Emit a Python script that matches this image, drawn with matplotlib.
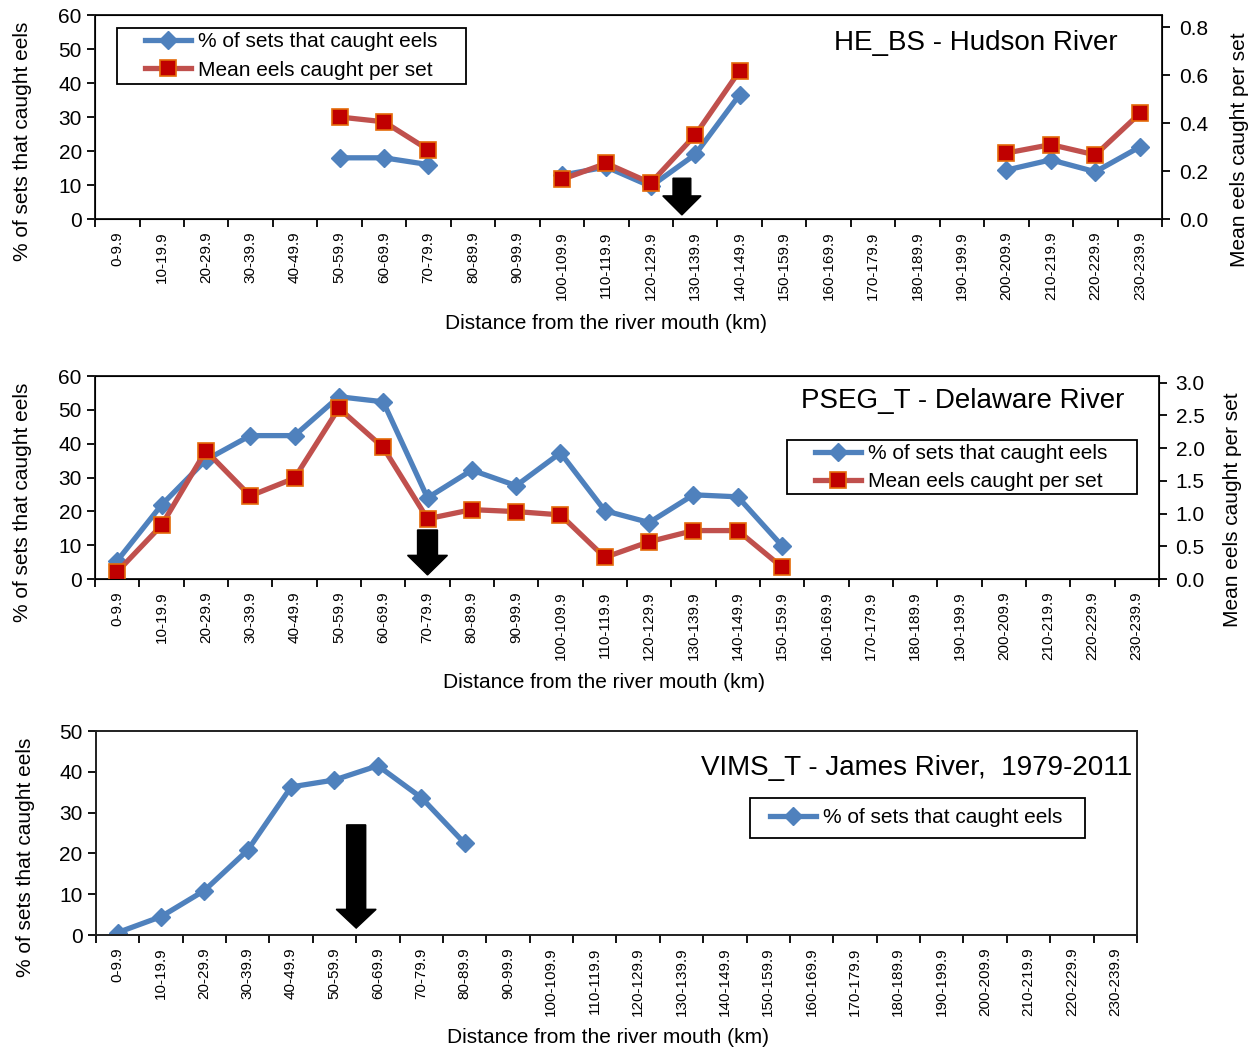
import numpy as np
import matplotlib
matplotlib.use("Agg")
import matplotlib.pyplot as plt
from matplotlib.patches import Rectangle

plt.rcParams['font.family'] = ['Liberation Sans', 'DejaVu Sans']

# distance bins (km)
bins = [f"{a}-{a+9}.9" for a in range(0, 240, 10)]
nan = np.nan

# HE_BS - Hudson River
hud_pct = [nan, nan, nan, nan, nan, 18.0, 18.0, 16.0, nan, nan, 12.9, 15.3, 9.6, 19.0, 36.6,
           nan, nan, nan, nan, nan, 14.4, 17.4, 13.9, 21.2]
hud_mean = [nan, nan, nan, nan, nan, 0.425, 0.405, 0.288, nan, nan, 0.165, 0.232, 0.150, 0.350, 0.618,
            nan, nan, nan, nan, nan, 0.275, 0.310, 0.267, 0.440]

# PSEG_T - Delaware River
del_pct = [5.4, 21.9, 35.2, 42.4, 42.4, 53.9, 52.4, 24.0, 32.2, 27.6, 37.3, 20.2, 16.7, 24.9, 24.3, 9.8,
           nan, nan, nan, nan, nan, nan, nan, nan]
del_mean = [0.11, 0.82, 1.96, 1.27, 1.54, 2.61, 2.01, 0.92, 1.06, 1.03, 0.98, 0.33, 0.57, 0.74, 0.74, 0.18,
            nan, nan, nan, nan, nan, nan, nan, nan]

# VIMS_T - James River
jam_pct = [0.6, 4.5, 10.9, 20.8, 36.3, 38.0, 41.5, 33.7, 22.5,
           nan, nan, nan, nan, nan, nan, nan, nan, nan, nan, nan, nan, nan, nan, nan]

# arrow positions (bin index)
arrow_x = [12.7, 7.0, 5.5]

BLUE = '#4F81BD'
RED = '#C0504D'
RED_FILL = '#C00000'
lab_pct = '% of sets that caught eels'
lab_mean = 'Mean eels caught per set'
FS = 15

fig = plt.figure(figsize=(12.59, 10.57), dpi=100)
x = np.arange(len(bins))


def style_x(ax, xlabel_x, xlabel_y):
    ax.set_xlim(-0.5, len(bins) - 0.5)
    ax.set_xticks(np.arange(-0.5, len(bins) + 0.5, 1.0))
    ax.set_xticklabels([])
    ax.set_xticks(x, minor=True)
    ax.set_xticklabels(bins, minor=True, rotation=90, fontsize=11)
    ax.tick_params(axis='x', which='minor', length=0, pad=9)
    ax.tick_params(axis='x', which='major', length=6, width=1.3, direction='out')
    ax.tick_params(axis='y', length=6, width=1.3, direction='out', labelsize=FS)
    ax.set_xlabel('Distance from the river mouth (km)', fontsize=FS)
    ax.xaxis.set_label_coords(xlabel_x, xlabel_y)
    ax.set_ylabel(lab_pct, fontsize=FS)
    ax.yaxis.set_label_coords(-0.059, 0.38)
    for s in ax.spines.values():
        s.set_linewidth(1.4)
        s.set_color('#202020')


def pct_line(ax, vals):
    return ax.plot(x, vals, color=BLUE, lw=3.8, marker='D', ms=9, mfc=BLUE, mec=BLUE, label=lab_pct)[0]


def mean_line(ax, vals):
    return ax.plot(x, vals, color=RED, lw=3.8, marker='s', ms=11, mfc=RED_FILL, mec='#E46C0A',
                   mew=1.2, label=lab_mean)[0]


def block_arrow(ax, xc, ytop, ybot, shaft, head, head_len):
    ax.arrow(xc, ytop, 0, ybot - ytop, width=shaft, head_width=head, head_length=head_len,
             length_includes_head=True, color='black', zorder=5)


def boxed_legend(ax, handles, labels, hx, hy, frame):
    ax.legend(handles, labels, loc='center left', bbox_to_anchor=(hx, hy), borderaxespad=0,
              borderpad=0, fontsize=FS, frameon=False, handlelength=2.2, handletextpad=0.33,
              labelspacing=0.45)
    ax.add_patch(Rectangle(frame[:2], frame[2], frame[3], transform=ax.transAxes, fill=False,
                           edgecolor='black', lw=1.3, zorder=6, clip_on=False))


def right_axis(ax, top, step, maxtick, labx):
    axb = ax.twinx()
    axb.set_ylim(0, top)
    axb.set_yticks(np.arange(0, maxtick + 1e-9, step))
    axb.yaxis.set_major_formatter(matplotlib.ticker.FormatStrFormatter('%.1f'))
    axb.tick_params(axis='y', length=6, width=1.3, direction='out', labelsize=FS, pad=6)
    axb.set_ylabel(lab_mean, fontsize=FS)
    axb.yaxis.set_label_coords(labx, 0.34)
    return axb


# ---- panel 1: Hudson
ax1 = fig.add_axes([0.0755, 0.7928, 0.8475, 0.193])
ax1.set_ylim(0, 60)
ax1.set_yticks(range(0, 61, 10))
style_x(ax1, 0.479, -0.465)
h1 = pct_line(ax1, hud_pct)
block_arrow(ax1, arrow_x[0], 12, 1.2, 0.4, 0.86, 5.6)
ax1b = right_axis(ax1, 0.85, 0.2, 0.8, 1.0635)
h2 = mean_line(ax1b, hud_mean)
boxed_legend(ax1b, [h1, h2], [lab_pct, lab_mean], 0.0469, 0.799, (0.0206, 0.662, 0.327, 0.2745))
ax1.text(0.958, 0.863, 'HE_BS - Hudson River', transform=ax1.transAxes, ha='right', va='center', fontsize=20)

# ---- panel 2: Delaware
ax2 = fig.add_axes([0.0755, 0.4522, 0.845, 0.192])
ax2.set_ylim(0, 60)
ax2.set_yticks(range(0, 61, 10))
style_x(ax2, 0.478, -0.463)
g1 = pct_line(ax2, del_pct)
block_arrow(ax2, arrow_x[1], 14.5, 1.2, 0.45, 0.9, 5.8)
ax2b = right_axis(ax2, 3.1, 0.5, 3.0, 1.060)
g2 = mean_line(ax2b, del_mean)
boxed_legend(ax2b, [g1, g2], [lab_pct, lab_mean], 0.677, 0.549, (0.650, 0.419, 0.329, 0.266))
ax2.text(0.968, 0.877, 'PSEG_T - Delaware River', transform=ax2.transAxes, ha='right', va='center', fontsize=20)

# ---- panel 3: James
ax3 = fig.add_axes([0.0762, 0.1154, 0.8268, 0.193])
ax3.set_ylim(0, 50)
ax3.set_yticks(range(0, 51, 10))
style_x(ax3, 0.492, -0.456)
j1 = pct_line(ax3, jam_pct)
block_arrow(ax3, arrow_x[2], 27, 1.7, 0.44, 0.92, 4.6)
boxed_legend(ax3, [j1], [lab_pct], 0.648, 0.574, (0.628, 0.475, 0.322, 0.196))
ax3.text(0.996, 0.819, 'VIMS_T - James River,  1979-2011', transform=ax3.transAxes, ha='right',
         va='center', fontsize=20)

fig.savefig('out.png', dpi=100)
